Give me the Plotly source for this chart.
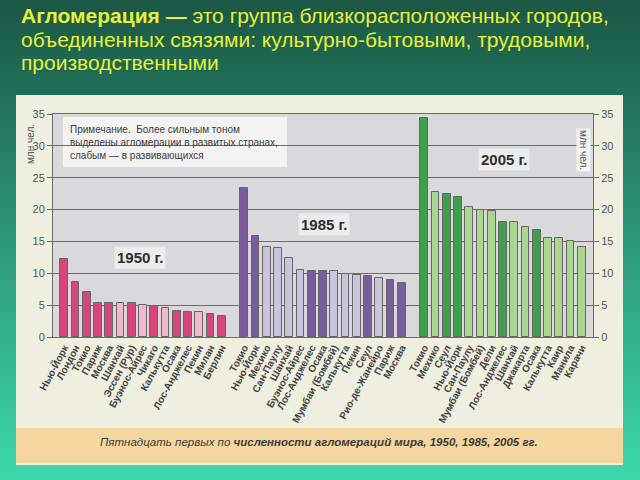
import plotly.graph_objects as go

# ---------------- data ----------------
years = ["1950 г.", "1985 г.", "2005 г."]

cities_1950 = ["Нью-Йорк", "Лондон", "Токио", "Париж", "Москва", "Шанхай", "Эссен (Рур)",
               "Буэнос-Айрес", "Чикаго", "Калькутта", "Осака", "Лос-Анджелес", "Пекин",
               "Милан", "Берлин"]
pop_1950 = [12.3, 8.7, 7.0, 5.4, 5.4, 5.3, 5.3, 5.0, 4.9, 4.5, 4.1, 4.0, 3.9, 3.6, 3.3]
developed_1950 = [1, 1, 1, 1, 1, 0, 1, 0, 1, 0, 1, 1, 0, 1, 1]

cities_1985 = ["Токио", "Нью-Йорк", "Мехико", "Сан-Паулу", "Шанхай", "Буэнос-Айрес",
               "Лос-Анджелес", "Осака", "Мумбаи (Бомбей)", "Калькутта", "Пекин", "Сеул",
               "Рио-де-Жанейро", "Париж", "Москва"]
pop_1985 = [23.4, 15.9, 14.2, 13.9, 12.4, 10.5, 10.4, 10.3, 10.3, 9.9, 9.8, 9.5, 9.2, 8.9, 8.5]
developed_1985 = [1, 1, 0, 0, 0, 0, 1, 1, 0, 0, 0, 1, 0, 1, 1]

cities_2005 = ["Токио", "Мехико", "Сеул", "Нью-Йорк", "Сан-Паулу", "Мумбаи (Бомбей)", "Дели",
               "Лос-Анджелес", "Шанхай", "Джакарта", "Осака", "Калькутта", "Каир", "Манила",
               "Карачи"]
pop_2005 = [34.3, 22.8, 22.4, 22.0, 20.4, 19.9, 19.7, 18.1, 18.0, 17.2, 16.8, 15.6, 15.5, 15.1, 14.2]
developed_2005 = [1, 0, 1, 1, 0, 0, 0, 1, 0, 0, 1, 0, 0, 0, 0]

y_ticks = [0, 5, 10, 15, 20, 25, 30, 35]

# ---------------- style ----------------
W, H = 640, 480
PL, PR, PT, PB = 53, 593, 114, 337   # plot area in pixels
dom_x = [PL / W, PR / W]
dom_y = [(H - PB) / H, (H - PT) / H]

group_colors = [("#d8457d", "#f2b8cb"), ("#7b5b9b", "#c9c3dd"), ("#3f9f4d", "#a9d78f")]
groups = [(cities_1950, pop_1950, developed_1950),
          (cities_1985, pop_1985, developed_1985),
          (cities_2005, pop_2005, developed_2005)]

fig = go.Figure()
all_x, all_text = [], []
for g, (cities, pops, dev) in enumerate(groups):
    xs = [g * 16 + i for i in range(len(cities))]
    cols = [group_colors[g][0] if d else group_colors[g][1] for d in dev]
    all_x += xs
    all_text += ["<b>%s</b>" % c for c in cities]
    fig.add_trace(go.Bar(x=xs, y=pops, width=0.68, marker=dict(color=cols,
                  line=dict(color="#666666", width=1)), name=years[g],
                  showlegend=False, hoverinfo="x+y"))

# invisible trace to carry the right axis
fig.add_trace(go.Scatter(x=[all_x[0], all_x[-1]], y=[y_ticks[0], y_ticks[-1]], yaxis="y2",
                         mode="markers", marker=dict(opacity=0), showlegend=False,
                         hoverinfo="skip"))

# ---------------- background shapes ----------------
shapes = []
top_c = (27, 88, 69)
bot_c = (60, 216, 170)
n = 60
for i in range(n):
    t = i / (n - 1)
    c = tuple(int(round(top_c[k] + (bot_c[k] - top_c[k]) * t)) for k in range(3))
    y1 = 1 - i / n
    y0 = 1 - (i + 1) / n - 0.002
    shapes.append(dict(type="rect", xref="paper", yref="paper", x0=0, x1=1, y0=max(y0, 0), y1=y1,
                       fillcolor="rgb(%d,%d,%d)" % c, line=dict(width=0), layer="below"))

def px_rect(x0, y0, x1, y1, fill, line=None):
    return dict(type="rect", xref="paper", yref="paper", x0=x0 / W, x1=x1 / W,
                y0=1 - y1 / H, y1=1 - y0 / H, fillcolor=fill,
                line=line or dict(width=0), layer="below")

shapes.append(px_rect(16, 95, 623, 465, "#efefdf"))          # scanned page
shapes.append(px_rect(16, 428, 623, 463, "#f4d79e"))         # caption band
shapes.append(px_rect(PL, PT, PR, PB, "#d9d9dc"))            # plot background
shapes.append(px_rect(63, 117, 287, 167, "#f3f3f3"))         # note box

fig.update_layout(shapes=shapes)

# ---------------- annotations ----------------
ann = []
title_lines = ["<b>Агломерация —</b> это группа близкорасположенных городов,",
               "объединенных связями: культурно-бытовыми, трудовыми,",
               "производственными"]
for i, line in enumerate(title_lines):
    ann.append(dict(text=line, x=19 / W, y=1 - (15 + i * 24) / H, xref="paper", yref="paper",
                    xanchor="left", yanchor="middle", showarrow=False,
                    font=dict(family="Liberation Sans, Arial", size=21, color="#e8f03a")))

ann.append(dict(text="Примечание.  Более сильным тоном<br>выделены агломерации в развитых странах,<br>слабым — в развивающихся",
                x=68 / W, y=1 - 143 / H, xref="paper", yref="paper", xanchor="left", yanchor="middle",
                align="left", showarrow=False,
                font=dict(family="Liberation Sans, Arial", size=10, color="#3c3c3c")))

label_pos = [(140, 257), (324, 224), (504, 160)]
for (lx, ly), yr in zip(label_pos, years):
    ann.append(dict(text="<b>%s</b>" % yr, x=lx / W, y=1 - ly / H, xref="paper", yref="paper",
                    xanchor="center", yanchor="middle",
                    showarrow=False, bgcolor="#ececec", borderpad=2,
                    font=dict(family="Liberation Sans, Arial", size=15, color="#2e2e2e")))

ann.append(dict(text="млн чел.", x=30 / W, y=1 - 144 / H, xref="paper", yref="paper",
                xanchor="center", yanchor="middle",
                textangle=-90, showarrow=False,
                font=dict(family="Liberation Sans, Arial", size=10, color="#555555")))
ann.append(dict(text="млн чел.", x=584 / W, y=1 - 150 / H, xref="paper", yref="paper",
                xanchor="center", yanchor="middle",
                textangle=90, showarrow=False, bgcolor="#f3f3f3",
                font=dict(family="Liberation Sans, Arial", size=10, color="#555555")))

ann.append(dict(text="<i>Пятнадцать первых по <b>численности агломераций мира, 1950, 1985, 2005 гг.</b></i>",
                x=319 / W, y=1 - 442 / H, xref="paper", yref="paper", showarrow=False,
                xanchor="center", yanchor="middle",
                font=dict(family="Liberation Sans, Arial", size=11.5, color="#3a3a3a")))

fig.update_layout(annotations=ann)

# ---------------- axes ----------------
axis_font = dict(family="Liberation Sans, Arial", size=11, color="#555555")
fig.update_layout(
    width=W, height=H, margin=dict(l=0, r=0, t=0, b=0, pad=0, autoexpand=False),
    paper_bgcolor="#1b5845", plot_bgcolor="rgba(0,0,0,0)",
    bargap=0,
    xaxis=dict(domain=dom_x, range=[-1, 47], tickvals=all_x, ticktext=all_text,
               tickangle=-62, ticks="", showgrid=False, zeroline=False, automargin=False,
               showline=True, linecolor="#6b6b6b", linewidth=1, mirror=True,
               tickfont=dict(family="Liberation Sans, Arial", size=10, color="#444444")),
    yaxis=dict(domain=dom_y, range=[0, 35], tickvals=y_ticks, showgrid=True, automargin=False,
               gridcolor="#6b6b6b", gridwidth=1, zeroline=False, showline=True,
               linecolor="#6b6b6b", ticks="outside", ticklen=5, tickcolor="#6b6b6b",
               tickfont=axis_font),
    yaxis2=dict(overlaying="y", side="right", range=[0, 35], tickvals=y_ticks, automargin=False,
                showgrid=False, zeroline=False, showline=True, linecolor="#6b6b6b",
                ticks="outside", ticklen=5, tickcolor="#6b6b6b", tickfont=axis_font),
)

fig.write_html("out.html")
